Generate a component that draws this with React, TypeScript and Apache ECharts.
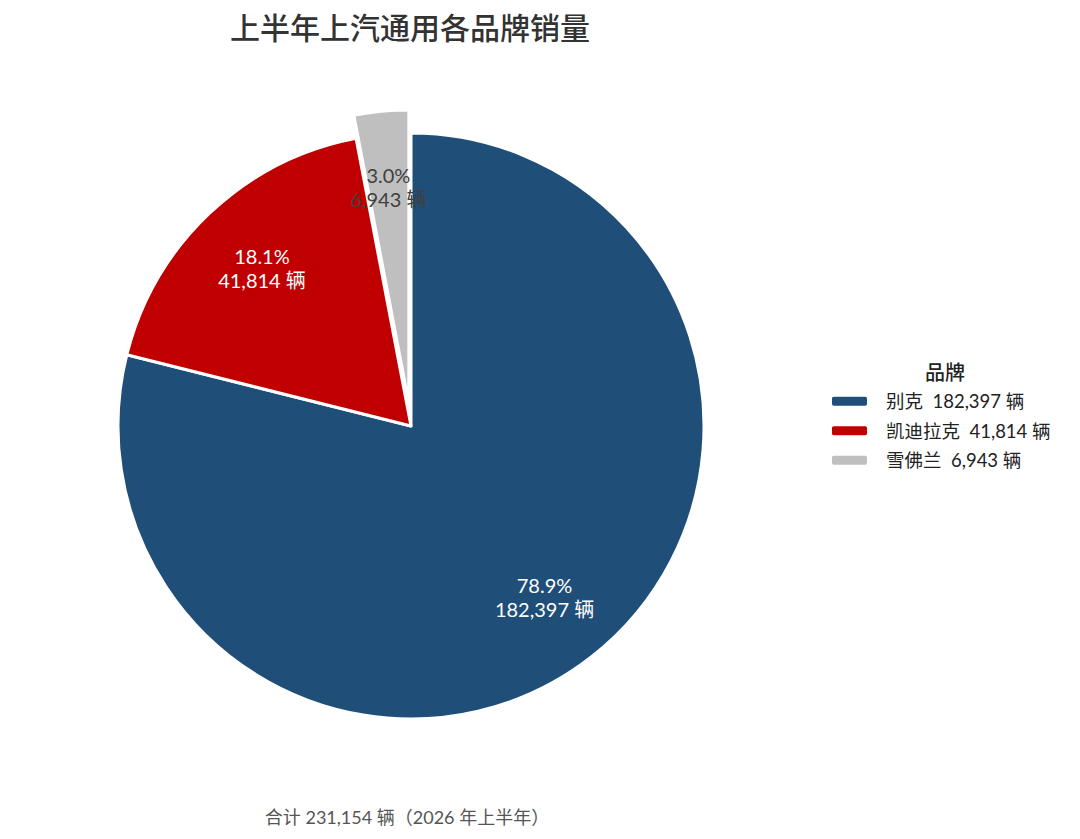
import React, { useEffect, useRef } from "react";
import * as echarts from "echarts";

const brands = ["别克", "凯迪拉克", "雪佛兰"];
const sales = [182397, 41814, 6943];
const colors = ["#1f4e79", "#c00000", "#bfbfbf"];
const labelColors = ["#ffffff", "#ffffff", "#404040"];
const explodedIndex = 2;
const titleText = "上半年上汽通用各品牌销量";
const legendTitle = "品牌";
const unit = "辆";
const periodText = "2026 年上半年";

const FONT = "Lato, 'Noto Sans CJK SC', sans-serif";

const fmt = (v: number) => v.toLocaleString("en-US");

export default function App() {
  const ref = useRef<HTMLDivElement>(null);
  useEffect(() => {
    document.body.style.margin = "0";
    const chart = echarts.init(ref.current!, undefined, { renderer: "svg" });
    const total = sales.reduce((a, b) => a + b, 0);
    const R = 293;
    const center = [411, 426];
    const mainData = brands.map((b, i) => ({
      name: b,
      value: sales[i],
      selected: i === explodedIndex,
      itemStyle: { color: colors[i] },
    }));
    const labelData = brands.map((b, i) => ({
      name: b,
      value: sales[i],
      selected: i === explodedIndex,
      itemStyle: { color: "rgba(0,0,0,0)" },
      label: { color: labelColors[i] },
    }));
    chart.setOption({
      animation: false,
      title: {
        text: titleText,
        left: 405,
        textAlign: "center",
        top: 7,
        textStyle: { fontSize: 30, fontWeight: 500, color: "#333", fontFamily: FONT },
      },
      legend: {
        orient: "vertical",
        left: 830,
        top: 392,
        padding: 0,
        itemWidth: 37,
        itemHeight: 11,
        itemGap: 11,
        data: brands.map((b, i) => ({ name: b, itemStyle: { color: colors[i] } })),
        formatter: (name: string) => {
          const i = brands.indexOf(name);
          return `${name}  ${fmt(sales[i])} ${unit}`;
        },
        textStyle: { fontSize: 18.5, color: "#222", fontFamily: FONT, padding: [0, 0, 0, 13] },
        selectedMode: false,
      },
      graphic: [
        {
          type: "text",
          x: 945,
          y: 372,
          style: {
            text: legendTitle,
            fontSize: 20,
            fontWeight: 500,
            fill: "#222",
            fontFamily: FONT,
            align: "center",
            verticalAlign: "middle",
          },
        },
        {
          type: "text",
          x: 407,
          y: 817,
          style: {
            text: `合计 ${fmt(total)} ${unit}（${periodText}）`,
            fontSize: 18,
            fill: "#555",
            fontFamily: FONT,
            align: "center",
            verticalAlign: "middle",
          },
        },
      ],
      series: [
        {
          type: "pie",
          name: "main",
          center,
          radius: [0, R],
          startAngle: 90,
          clockwise: true,
          selectedMode: "single",
          selectedOffset: 23,
          silent: true,
          label: { show: false },
          labelLine: { show: false },
          itemStyle: { borderColor: "#fff", borderWidth: 3 },
          emphasis: { disabled: true },
          data: mainData,
        },
        {
          type: "pie",
          name: "labels",
          center,
          radius: [Math.round(R * 0.46), R],
          startAngle: 90,
          clockwise: true,
          selectedMode: "single",
          selectedOffset: 23,
          silent: true,
          labelLine: { show: false },
          itemStyle: { borderWidth: 0 },
          emphasis: { disabled: true },
          label: {
            show: true,
            position: "inside",
            fontSize: 20,
            lineHeight: 24,
            fontFamily: FONT,
            formatter: (p: any) =>
              `${((p.value / total) * 100).toFixed(1)}%\n${fmt(p.value)} ${unit}`,
          },
          data: labelData,
        },
      ],
    });
    return () => chart.dispose();
  }, []);
  return <div ref={ref} style={{ width: 1080, height: 839 }} />;
}
